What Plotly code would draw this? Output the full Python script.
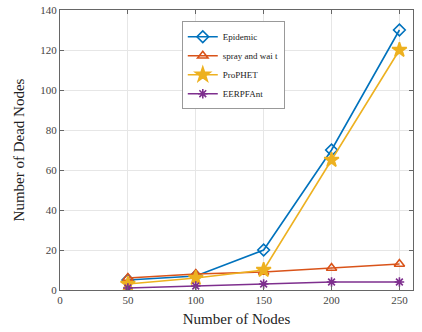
import plotly.graph_objects as go

nodes = [50, 100, 150, 200, 250]
epidemic = [5, 7, 20, 70, 130]
spray_wait = [6, 8, 9, 11, 13]
prophet = [3, 6, 10, 65, 120]
eerpfant = [1, 2, 3, 4, 4]

series = [
    ("Epidemic", epidemic, "#0072BD", "diamond-open", 9),
    ("spray and wai t", spray_wait, "#D95319", "triangle-up-open", 9),
    ("ProPHET", prophet, "#EDB120", "star", 11),
    ("EERPFAnt", eerpfant, "#7E2F8E", "asterisk-open", 8),
]

SERIF = "Liberation Serif"

fig = go.Figure()
for name, vals, color, sym, sz in series:
    fig.add_trace(go.Scatter(
        x=nodes, y=vals, name=name, mode="lines+markers",
        line=dict(color=color, width=1.6),
        marker=dict(symbol=sym, size=sz, color=color, line=dict(color=color, width=1.6)),
    ))

axis_common = dict(
    showgrid=True, gridcolor="#e6e6e6", gridwidth=1,
    showline=True, linecolor="#666666", linewidth=1, mirror="ticks",
    ticks="inside", ticklen=4, tickcolor="#666666",
    tickfont=dict(family=SERIF, size=11, color="#444444"),
    zeroline=False, automargin=False,
)

fig.update_layout(
    width=422, height=332,
    margin=dict(l=60, r=9, t=10, b=42),
    paper_bgcolor="white", plot_bgcolor="white",
    font=dict(family=SERIF, color="#222222"),
    xaxis=dict(range=[0, 260], tickvals=[0, 50, 100, 150, 200, 250],
               title=dict(text="Number of Nodes", font=dict(size=15, family=SERIF, color="#222"), standoff=8),
               **axis_common),
    yaxis=dict(range=[0, 140], tickvals=list(range(0, 141, 20)),
               title=dict(text="Number of Dead Nodes", font=dict(size=15, family=SERIF, color="#222"), standoff=12),
               **axis_common),
    legend=dict(x=0.345, y=0.96, xanchor="left", yanchor="top",
                bgcolor="white", bordercolor="#999999", borderwidth=1,
                font=dict(family=SERIF, size=9, color="#222"),
                tracegroupgap=0, itemwidth=30),
    showlegend=True,
)

fig.write_html("out.html", config={"displayModeBar": False},
               post_script="document.body.style.margin='0';document.body.style.overflow='hidden';")
